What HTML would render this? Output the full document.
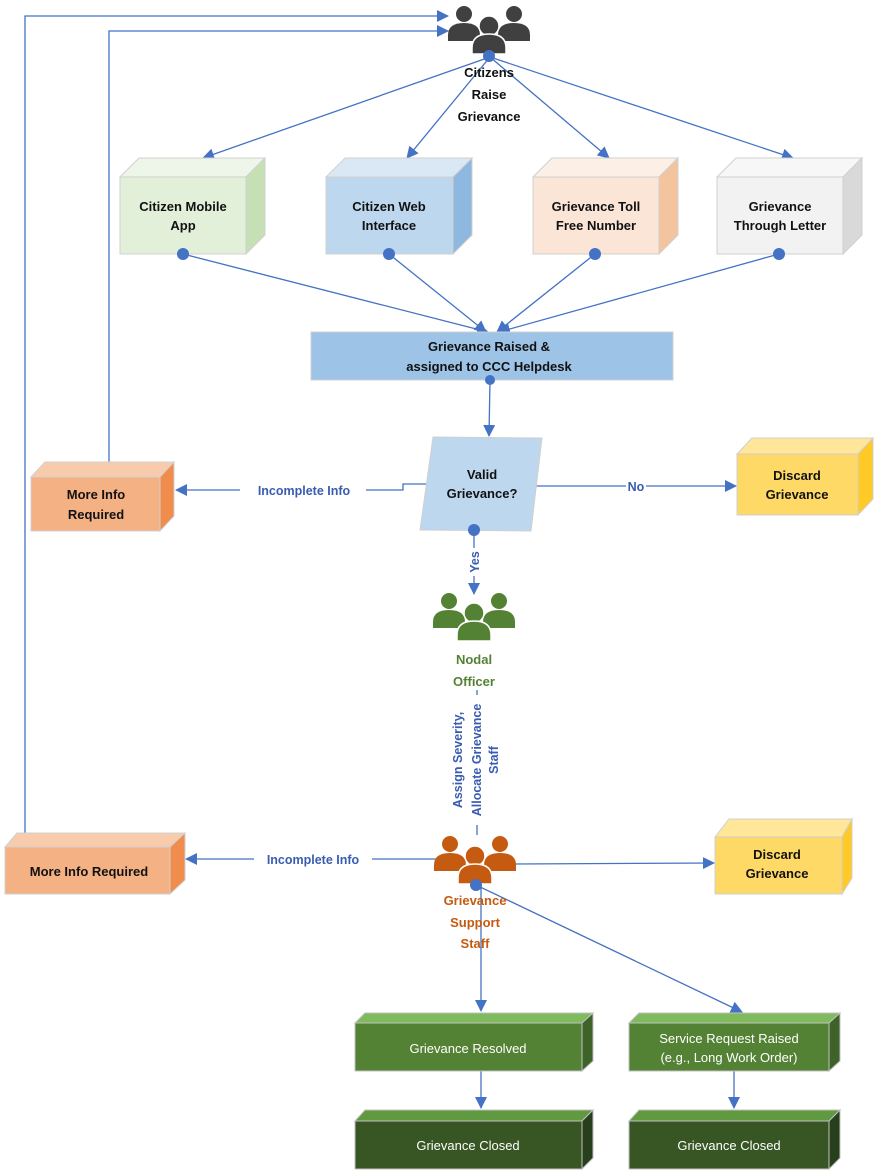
<!DOCTYPE html>
<html><head><meta charset="utf-8"><style>
html,body{margin:0;padding:0;background:#fff;}
svg{display:block;font-family:"Liberation Sans",sans-serif;}
.b{font-weight:bold;font-size:13px;fill:#111;}
.w{font-size:13px;fill:#fff;}
.l{font-weight:bold;font-size:12.5px;fill:#3a5cb0;}
</style></head><body>
<svg width="878" height="1176" viewBox="0 0 878 1176" xmlns="http://www.w3.org/2000/svg">
<defs>
<marker id="a" markerWidth="12" markerHeight="12" refX="11" refY="6" orient="auto" markerUnits="userSpaceOnUse"><path d="M0,0 L12,6 L0,12 z" fill="#4472c4"/></marker>
<g id="ppl">
<circle cx="-25" cy="-15" r="8"/><path d="M-41,12 v-6 q0,-12 16,-12 q16,0 16,12 v6 z"/>
<circle cx="25" cy="-15" r="8"/><path d="M9,12 v-6 q0,-12 16,-12 q16,0 16,12 v6 z"/>
<circle cx="0" cy="-3" r="10" stroke="#fff" stroke-width="1.5"/><path d="M-17,25 v-6 q0,-14 17,-14 q17,0 17,14 v6 z" stroke="#fff" stroke-width="1.5"/>
</g>
</defs>
<g fill="none" stroke="#4472c4" stroke-width="1.3">
<polyline points="109,462 109,31 448,31" marker-end="url(#a)"/>
<polyline points="25,833 25,16 448,16" marker-end="url(#a)"/>
<line x1="490" y1="57" x2="203" y2="158" marker-end="url(#a)"/>
<line x1="490" y1="57" x2="407" y2="158" marker-end="url(#a)"/>
<line x1="490" y1="57" x2="609" y2="158" marker-end="url(#a)"/>
<line x1="490" y1="57" x2="793" y2="158" marker-end="url(#a)"/>
<line x1="183" y1="254" x2="488" y2="332" marker-end="url(#a)"/>
<line x1="389" y1="254" x2="486" y2="332" marker-end="url(#a)"/>
<line x1="595" y1="254" x2="497" y2="332" marker-end="url(#a)"/>
<line x1="779" y1="254" x2="499" y2="332" marker-end="url(#a)"/>
<line x1="490" y1="380" x2="489" y2="436" marker-end="url(#a)"/>
<polyline points="428,484 403,484 403,490 176,490" marker-end="url(#a)"/>
<line x1="533" y1="486" x2="736" y2="486" marker-end="url(#a)"/>
<line x1="474" y1="530" x2="474" y2="594" marker-end="url(#a)"/>
<line x1="477" y1="690" x2="477" y2="835"/>
<line x1="437" y1="859" x2="186" y2="859" marker-end="url(#a)"/>
<line x1="514" y1="864" x2="714" y2="863" marker-end="url(#a)"/>
<line x1="481" y1="885" x2="481" y2="1011" marker-end="url(#a)"/>
<line x1="476" y1="885" x2="742" y2="1012" marker-end="url(#a)"/>
<line x1="481" y1="1071" x2="481" y2="1108" marker-end="url(#a)"/>
<line x1="734" y1="1071" x2="734" y2="1108" marker-end="url(#a)"/>
</g>
<g fill="#404040" transform="translate(489,29)"><use href="#ppl"/></g>
<circle cx="489" cy="56" r="6" fill="#4472c4"/>
<text class="b" font-size="14" text-anchor="middle"><tspan x="489" y="77">Citizens</tspan><tspan x="489" y="99">Raise</tspan><tspan x="489" y="121">Grievance</tspan></text>

<g stroke="#d0d0d0" stroke-width="1">
<polygon points="120,177 139,158 265,158 246,177" fill="#eef5e9"/><polygon points="246,177 265,158 265,235 246,254" fill="#c5e0b4"/><rect x="120" y="177" width="126" height="77" fill="#e2efd9"/>
<polygon points="326,177 345,158 472,158 453,177" fill="#dae8f5"/><polygon points="453,177 472,158 472,235 453,254" fill="#8fb8e0"/><rect x="326" y="177" width="127" height="77" fill="#bdd7ee"/>
<polygon points="533,177 552,158 678,158 659,177" fill="#fcefe5"/><polygon points="659,177 678,158 678,235 659,254" fill="#f4c49e"/><rect x="533" y="177" width="126" height="77" fill="#fbe5d6"/>
<polygon points="717,177 736,158 862,158 843,177" fill="#f7f7f7"/><polygon points="843,177 862,158 862,235 843,254" fill="#d9d9d9"/><rect x="717" y="177" width="126" height="77" fill="#f2f2f2"/>
</g>
<text class="b" text-anchor="middle"><tspan x="183" y="211">Citizen Mobile</tspan><tspan x="183" y="230">App</tspan></text>
<text class="b" text-anchor="middle"><tspan x="389" y="211">Citizen Web</tspan><tspan x="389" y="230">Interface</tspan></text>
<text class="b" text-anchor="middle"><tspan x="596" y="211">Grievance Toll</tspan><tspan x="596" y="230">Free Number</tspan></text>
<text class="b" text-anchor="middle"><tspan x="780" y="211">Grievance</tspan><tspan x="780" y="230">Through Letter</tspan></text>
<g fill="#4472c4"><circle cx="183" cy="254" r="6"/><circle cx="389" cy="254" r="6"/><circle cx="595" cy="254" r="6"/><circle cx="779" cy="254" r="6"/></g>

<rect x="311" y="332" width="362" height="48" fill="#9dc3e6" stroke="#d0d0d0"/>
<text class="b" text-anchor="middle"><tspan x="489" y="351">Grievance Raised &amp;</tspan><tspan x="489" y="371">assigned to CCC Helpdesk</tspan></text>
<circle cx="490" cy="380" r="5" fill="#4472c4"/>

<polygon points="433,437 542,438 531,531 420,530" fill="#bdd7ee" stroke="#d0d0d0"/>
<text class="b" text-anchor="middle"><tspan x="482" y="479">Valid</tspan><tspan x="482" y="498">Grievance?</tspan></text>
<circle cx="474" cy="530" r="6" fill="#4472c4"/>
<rect x="240" y="482" width="126" height="16" fill="#fff"/>
<text class="l" x="304" y="495" text-anchor="middle">Incomplete Info</text>
<rect x="626" y="478" width="20" height="16" fill="#fff"/>
<text class="l" x="636" y="491" text-anchor="middle">No</text>
<rect x="466" y="548" width="16" height="28" fill="#fff"/>
<text class="l" transform="translate(479,562) rotate(-90)" text-anchor="middle">Yes</text>

<g stroke="#d0d0d0"><polygon points="31,477 45,462 174,462 160,477" fill="#f8cbad"/><polygon points="160,477 174,462 174,516 160,531" fill="#f08c4c"/><rect x="31" y="477" width="129" height="54" fill="#f4b183"/></g>
<text class="b" text-anchor="middle"><tspan x="96" y="499">More Info</tspan><tspan x="96" y="519">Required</tspan></text>

<g stroke="#d0d0d0"><polygon points="737,454 752,438 873,438 858,454" fill="#ffe699"/><polygon points="858,454 873,438 873,499 858,515" fill="#ffc926"/><rect x="737" y="454" width="121" height="61" fill="#ffd966"/></g>
<text class="b" text-anchor="middle"><tspan x="797" y="480">Discard</tspan><tspan x="797" y="499">Grievance</tspan></text>

<g fill="#548235" transform="translate(474,616)"><use href="#ppl"/></g>
<text class="b" font-size="14" text-anchor="middle" style="fill:#548235"><tspan x="474" y="664">Nodal</tspan><tspan x="474" y="686">Officer</tspan></text>
<rect x="446" y="695" width="56" height="130" fill="#fff"/>
<text class="l" font-size="12" text-anchor="middle" transform="translate(462,760) rotate(-90)">Assign Severity,</text>
<text class="l" font-size="12" text-anchor="middle" transform="translate(481,760) rotate(-90)">Allocate Grievance</text>
<text class="l" font-size="12" text-anchor="middle" transform="translate(498,760) rotate(-90)">Staff</text>

<g fill="#c55a11" transform="translate(475,859)"><use href="#ppl"/></g>
<circle cx="476" cy="885" r="6" fill="#4472c4"/>
<text class="b" font-size="14" text-anchor="middle" style="fill:#c55a11"><tspan x="475" y="905">Grievance</tspan><tspan x="475" y="927">Support</tspan><tspan x="475" y="948">Staff</tspan></text>

<g stroke="#d0d0d0"><polygon points="5,847 17,833 185,833 170,847" fill="#f8cbad"/><polygon points="170,847 185,833 185,880 170,894" fill="#f08c4c"/><rect x="5" y="847" width="165" height="47" fill="#f4b183"/></g>
<text class="b" x="89" y="876" text-anchor="middle">More Info Required</text>
<rect x="254" y="851" width="118" height="16" fill="#fff"/>
<text class="l" x="313" y="864" text-anchor="middle">Incomplete Info</text>

<g stroke="#d0d0d0"><polygon points="715,837 729,819 852,819 842,837" fill="#ffe699"/><polygon points="842,837 852,819 852,878 842,894" fill="#ffc926"/><rect x="715" y="837" width="127" height="57" fill="#ffd966"/></g>
<text class="b" text-anchor="middle"><tspan x="777" y="859">Discard</tspan><tspan x="777" y="878">Grievance</tspan></text>

<g stroke="#c0c0c0">
<polygon points="355,1023 365,1013 593,1013 582,1023" fill="#7fba5c"/><polygon points="582,1023 593,1013 593,1061 582,1071" fill="#3e6328"/><rect x="355" y="1023" width="227" height="48" fill="#548235"/>
<polygon points="355,1121 365,1110 593,1110 582,1121" fill="#60993f"/><polygon points="582,1121 593,1110 593,1158 582,1169" fill="#27401b"/><rect x="355" y="1121" width="227" height="48" fill="#375623"/>
<polygon points="629,1023 639,1013 840,1013 829,1023" fill="#7fba5c"/><polygon points="829,1023 840,1013 840,1061 829,1071" fill="#3e6328"/><rect x="629" y="1023" width="200" height="48" fill="#548235"/>
<polygon points="629,1121 639,1110 840,1110 829,1121" fill="#60993f"/><polygon points="829,1121 840,1110 840,1158 829,1169" fill="#27401b"/><rect x="629" y="1121" width="200" height="48" fill="#375623"/>
</g>
<text class="w" x="468" y="1053" text-anchor="middle">Grievance Resolved</text>
<text class="w" x="468" y="1150" text-anchor="middle">Grievance Closed</text>
<text class="w" text-anchor="middle"><tspan x="729" y="1043">Service Request Raised</tspan><tspan x="729" y="1062">(e.g., Long Work Order)</tspan></text>
<text class="w" x="729" y="1150" text-anchor="middle">Grievance Closed</text>
</svg>
</body></html>
